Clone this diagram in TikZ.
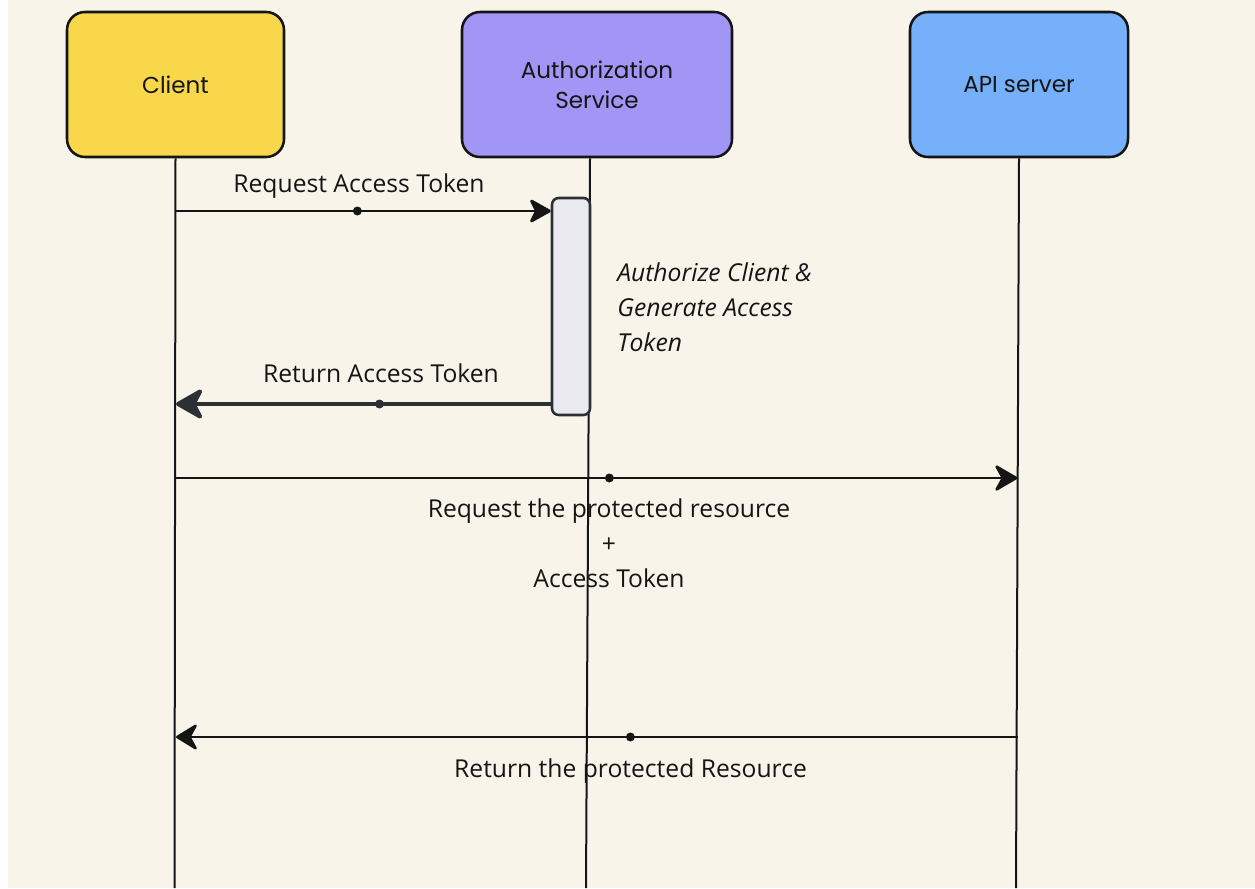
\documentclass[tikz,border=0pt]{standalone}
\usepackage{fontspec}
\setmainfont{Open Sans}
\newfontfamily\headfont{Poppins}
\usetikzlibrary{arrows.meta,calc}
\definecolor{paper}{HTML}{F8F4EA}
\definecolor{clientfill}{HTML}{F9D74A}
\definecolor{authfill}{HTML}{A195F6}
\definecolor{apifill}{HTML}{76AFFA}
\definecolor{actfill}{HTML}{EAE9F0}
\definecolor{ink}{HTML}{151515}
\definecolor{inkgray}{HTML}{2B3034}
\tikzset{
  actorbox/.style={draw=ink, line width=1.9pt, rounded corners=13.5pt,
    minimum height=108.75pt, align=center, text=ink,
    font=\headfont\fontsize{17.3}{22.5}\selectfont},
  lifeline/.style={draw=ink, line width=1.5pt},
  actbox/.style={draw=inkgray, line width=1.9pt, rounded corners=5pt, fill=actfill,
    minimum width=28.5pt, minimum height=162.75pt, inner sep=0pt},
  msg/.style={draw=ink, line width=1.9pt},
  msgtext/.style={text=ink, font=\fontsize{18.5}{26.25}\selectfont, align=center, inner sep=0pt},
  dotmark/.style={circle, fill=ink, inner sep=0pt, minimum size=6.75pt},
}
\begin{document}
\begin{tikzpicture}[x=0.75pt,y=-0.75pt]
\useasboundingbox (0,0) rectangle (1255,888);
\fill[white] (0,0) rectangle (1255,888);
\fill[paper] (8,0) rectangle (1255,888);

% participants
\node[actorbox, fill=clientfill, minimum width=162.75pt] (client) at (175.5,84.5) {Client};
\node[actorbox, fill=authfill, minimum width=202.5pt] (auth) at (597,84.5) {Authorization\\Service};
\node[actorbox, fill=apifill, minimum width=163.5pt] (api) at (1019,84.5) {API server};

% lifeline ends
\coordinate (clientend) at (174.5,888);
\coordinate (authend) at (586,888);
\coordinate (apiend) at (1016,888);

% message labels
\node[msgtext, anchor=base] (l1) at (359,192) {Request Access Token};
\node[msgtext, anchor=base] (l2) at (381,382) {Return Access Token};
\node[msgtext, font=\itshape\fontsize{18.5}{26.25}\selectfont, align=left, anchor=north west] (note) at (617,262)
  {Authorize Client \&\\Generate Access\\Token};
\node[msgtext, anchor=north] (l3) at (609,498)
  {Request the protected resource\\+\\Access Token};
\node[msgtext, anchor=base] (l4) at (630.5,777) {Return the protected Resource};

% lifelines
\draw[lifeline] (client.south) -- (clientend);
\draw[lifeline] (auth.south -| 590,0) -- (authend);
\draw[lifeline] (api.south) -- (apiend);

% activation bar
\node[actbox] (act) at (571,306.5) {};

% message endpoints
\coordinate (m1s) at (176,211);
\coordinate (m2e) at (176,404);
\coordinate (m3s) at (176,478);
\coordinate (m3e) at (1017.5,478);
\coordinate (m4s) at (1017.5,737);
\coordinate (m4e) at (176,737);

% messages
\draw[msg, line width=2.2pt, -{Stealth[length=18pt, width=20pt, inset=5pt, round]}]
  (m1s) -- node[dotmark, pos=0.484] (d1) {} (act.west |- m1s);
\draw[msg, draw=inkgray, line width=3pt, -{Stealth[length=23pt, width=26pt, inset=6.5pt, round]}]
  (act.west |- m2e) -- node[dotmark, fill=inkgray, pos=0.457] (d2) {} (m2e);
\draw[msg, -{Stealth[length=19pt, width=22pt, inset=6pt, round]}]
  (m3s) -- node[dotmark, pos=0.515] (d3) {} (m3e);
\draw[msg, -{Stealth[length=18pt, width=22pt, inset=6pt, round]}]
  (m4s) -- node[dotmark, pos=0.46] (d4) {} (m4e);
\end{tikzpicture}
\end{document}
